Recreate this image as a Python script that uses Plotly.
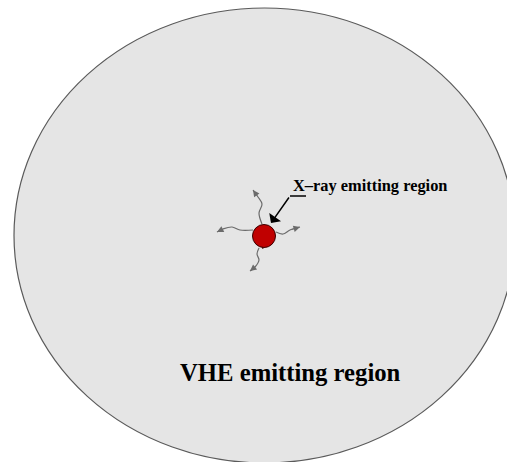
import plotly.graph_objects as go

# Diagram geometry in pixel coordinates (x right, y down)
W, H = 507, 462

# outer VHE region (ellipse bounds)
vhe_box = [14, 8, 515, 463]
# central X-ray blob (center x, center y, radius)
blob = [264, 236, 11.5]
# cracks inside the blob
crack_x = [258, 263, 273, None, 263, 261, 263]
crack_y = [229, 237, 238, None, 237, 243, 249]

# wavy photon paths leaving the blob
wave_up_x = [262, 259, 262, 258, 253]
wave_up_y = [224, 213, 204, 197, 190]
wave_left_x = [253, 240, 232, 223, 217]
wave_left_y = [230, 230, 227, 229, 232]
wave_right_x = [276, 283, 290, 300]
wave_right_y = [232, 234, 230, 227]
wave_down_x = [259, 257, 259, 255, 250]
wave_down_y = [248, 254, 260, 267, 271]

# pointer from label to blob
pointer_x = [306, 290, 271]
pointer_y = [196, 196, 223]

labels = ["X\u2013ray emitting region", "VHE emitting region"]

fig = go.Figure()

fig.add_shape(type="circle", xref="x", yref="y",
              x0=vhe_box[0], y0=vhe_box[1], x1=vhe_box[2], y1=vhe_box[3],
              fillcolor="#e5e5e5", line=dict(color="#5a5a5a", width=1.2),
              layer="below")

waves = [(wave_up_x, wave_up_y), (wave_left_x, wave_left_y),
         (wave_right_x, wave_right_y), (wave_down_x, wave_down_y)]
for wx, wy in waves:
    fig.add_trace(go.Scatter(x=wx, y=wy, mode="lines", line_shape="spline",
                             line=dict(color="#6b6b6b", width=1.2),
                             hoverinfo="skip", showlegend=False))
    fig.add_annotation(x=wx[-1], y=wy[-1], ax=wx[-2], ay=wy[-2],
                       xref="x", yref="y", axref="x", ayref="y",
                       text="", showarrow=True, arrowhead=2, arrowsize=1.3,
                       arrowwidth=1, arrowcolor="#6b6b6b")

cx, cy, r = blob
fig.add_shape(type="circle", xref="x", yref="y",
              x0=cx - r, y0=cy - r, x1=cx + r, y1=cy + r,
              fillcolor="#c00000", line=dict(color="#3a0000", width=1))
fig.add_trace(go.Scatter(x=crack_x, y=crack_y, mode="lines",
                         line=dict(color="#3a0000", width=1),
                         hoverinfo="skip", showlegend=False))

# pointer line + arrow
fig.add_trace(go.Scatter(x=pointer_x[:2], y=pointer_y[:2], mode="lines",
                         line=dict(color="black", width=1.5),
                         hoverinfo="skip", showlegend=False))
fig.add_annotation(x=pointer_x[2], y=pointer_y[2], ax=pointer_x[1], ay=pointer_y[1],
                   xref="x", yref="y", axref="x", ayref="y",
                   text="", showarrow=True, arrowhead=1, arrowsize=1.6,
                   arrowwidth=1.5, arrowcolor="black")

fig.add_annotation(x=291, y=185, xref="x", yref="y", text="<b>" + labels[0] + "</b>",
                   showarrow=False, xanchor="left", yanchor="middle",
                   font=dict(family="Liberation Serif", size=16.4, color="black"))
fig.add_annotation(x=178, y=372, xref="x", yref="y", text="<b>" + labels[1] + "</b>",
                   showarrow=False, xanchor="left", yanchor="middle",
                   font=dict(family="Liberation Serif", size=24.7, color="black"))

fig.update_xaxes(range=[0, W], visible=False, fixedrange=True)
fig.update_yaxes(range=[H, 0], visible=False, fixedrange=True)
fig.update_layout(width=W, height=H, margin=dict(l=0, r=0, t=0, b=0),
                  paper_bgcolor="white", plot_bgcolor="white", showlegend=False)

# drop the default page margin so the figure sits at the window origin
fig.write_html("out.html", config={"displayModeBar": False},
               post_script="document.body.style.margin='0';")
